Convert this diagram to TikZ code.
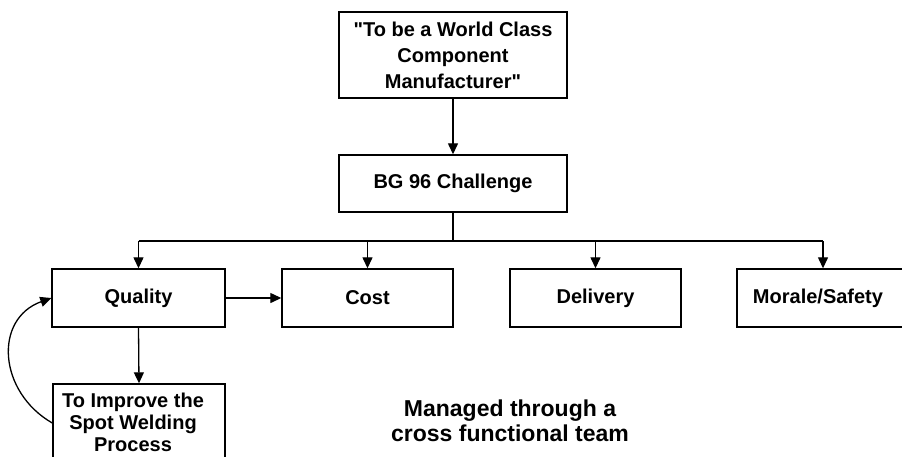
\documentclass[tikz,border=0pt]{standalone}
\usepackage{fontspec}
\setmainfont{Liberation Sans}
\usetikzlibrary{arrows.meta}
\begin{document}
\begin{tikzpicture}[x=1pt,y=-1pt,
  boxfont/.style={font=\bfseries\fontsize{20}{22}\selectfont},
  box/.style={draw,line width=1.4pt,inner sep=0pt,align=center,boxfont},
  conn/.style={line width=1.3pt},
  arr/.style={conn,-{Triangle[length=11pt,width=10pt]}}]
\useasboundingbox (0,0) rectangle (902,456);
\clip (0,0) rectangle (902,456);
\node[box,minimum width=228pt,minimum height=86pt,font=\bfseries\fontsize{20}{26}\selectfont] (top) at (453,55) {\textquotedbl To be a World Class\\Component\\Manufacturer\textquotedbl};
\node[box,minimum width=228pt,minimum height=57pt] (bg) at (453,183.5) {BG 96 Challenge};
\node[box,minimum width=173pt,minimum height=58pt] (quality) at (138.5,298) {Quality};
\node[box,minimum width=171pt,minimum height=58pt] (cost) at (367.5,298) {Cost};
\node[box,minimum width=171pt,minimum height=58pt] (delivery) at (595.5,298) {Delivery};
\node[box,minimum width=172pt,minimum height=58pt,label={[boxfont,xshift=-5pt]center:Morale/Safety}] (morale) at (823,298) {};
\node[box,minimum width=172pt,minimum height=86pt,label={[boxfont,align=center,xshift=-6pt,yshift=5pt]center:To Improve the\\Spot Welding\\Process}] (improve) at (139,427) {};
\node[font=\bfseries\fontsize{23}{25}\selectfont,align=center] (managed) at (510,421) {Managed through a\\cross functional team};
\coordinate (busL) at (138.5,241);
\coordinate (busR) at (823,241);
\draw[arr] (top) -- (bg);
\draw[conn] (bg.south) -- (bg.south |- busL);
\draw[conn] (busL) -- (busR);
\draw[arr] (busL) -- (quality.north);
\draw[arr] (cost.north |- busL) -- (cost.north);
\draw[arr] (delivery.north |- busL) -- (delivery.north);
\draw[arr] (busR) -- (morale.north);
\draw[arr] (quality.east) -- (cost.west);
\draw[arr] (quality.south) -- (improve.north);
\draw[arr] ([yshift=4pt]improve.west) .. controls +(-54,-31) and +(-58,21) .. (quality.west);
\end{tikzpicture}
\end{document}
